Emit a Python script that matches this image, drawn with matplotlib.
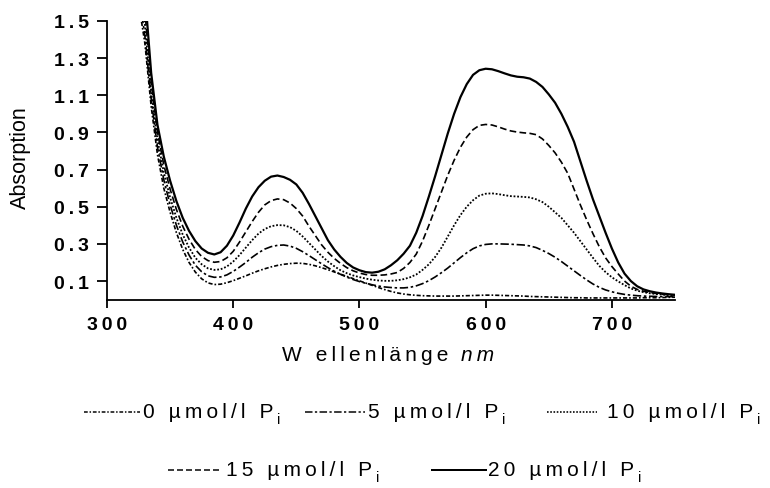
import numpy as np
import matplotlib
matplotlib.use("Agg")
import matplotlib.pyplot as plt
from matplotlib.lines import Line2D
from matplotlib import font_manager, ft2font

# ---------------- data ----------------
wavelength = np.arange(325, 751, 5)  # nm

a_0 = [1.60, 1.38, 1.04, 0.78, 0.60, 0.47, 0.36, 0.27, 0.20, 0.148,
       0.112, 0.09, 0.081, 0.083, 0.091, 0.102, 0.115, 0.128, 0.142, 0.155,
       0.166, 0.176, 0.184, 0.19, 0.194, 0.196, 0.195, 0.19, 0.182, 0.172,
       0.161, 0.149, 0.137, 0.125, 0.113, 0.101, 0.089, 0.077, 0.065, 0.054,
       0.044, 0.036, 0.03, 0.026, 0.023, 0.021, 0.02, 0.019, 0.019, 0.019,
       0.019, 0.02, 0.021, 0.022, 0.023, 0.024, 0.024, 0.023, 0.022, 0.021,
       0.02, 0.019, 0.017, 0.016, 0.015, 0.014, 0.013, 0.012, 0.011, 0.01,
       0.01, 0.009, 0.009, 0.009, 0.009, 0.009, 0.009, 0.009, 0.009, 0.009,
       0.01, 0.01, 0.01, 0.011, 0.012, 0.013]

a_5 = [1.66, 1.42, 1.08, 0.82, 0.645, 0.51, 0.40, 0.31, 0.24, 0.185,
       0.15, 0.128, 0.12, 0.122, 0.133, 0.152, 0.175, 0.20, 0.228, 0.252,
       0.272, 0.285, 0.292, 0.294, 0.288, 0.276, 0.258, 0.237, 0.215, 0.193,
       0.172, 0.153, 0.136, 0.121, 0.108, 0.097, 0.088, 0.08, 0.073, 0.068,
       0.065, 0.063, 0.063, 0.066, 0.074, 0.086, 0.102, 0.122, 0.145, 0.17,
       0.198, 0.226, 0.252, 0.274, 0.289, 0.297, 0.30, 0.30, 0.299, 0.298,
       0.296, 0.294, 0.289, 0.28, 0.265, 0.248, 0.228, 0.205, 0.18, 0.155,
       0.13, 0.106, 0.084, 0.066, 0.052, 0.042, 0.034, 0.028, 0.024, 0.021,
       0.019, 0.018, 0.017, 0.016, 0.016, 0.015]

a_10 = [1.72, 1.48, 1.12, 0.86, 0.685, 0.55, 0.44, 0.35, 0.28, 0.225,
        0.19, 0.168, 0.16, 0.163, 0.178, 0.205, 0.24, 0.28, 0.32, 0.355,
        0.38, 0.395, 0.401, 0.40, 0.39, 0.37, 0.34, 0.305, 0.27, 0.235,
        0.205, 0.18, 0.158, 0.142, 0.13, 0.121, 0.113, 0.107, 0.103, 0.101,
        0.101, 0.104, 0.11, 0.12, 0.135, 0.16, 0.19, 0.23, 0.28, 0.34,
        0.40, 0.455, 0.50, 0.535, 0.56, 0.57, 0.572, 0.568, 0.562, 0.557,
        0.555, 0.553, 0.55, 0.54, 0.525, 0.50, 0.47, 0.44, 0.40, 0.36,
        0.315, 0.27, 0.225, 0.182, 0.148, 0.12, 0.098, 0.078, 0.06, 0.048,
        0.04, 0.034, 0.03, 0.027, 0.024, 0.022]

a_15 = [1.85, 1.55, 1.17, 0.90, 0.725, 0.595, 0.485, 0.395, 0.325, 0.27,
        0.232, 0.21, 0.201, 0.205, 0.225, 0.26, 0.31, 0.365, 0.42, 0.47,
        0.51, 0.533, 0.542, 0.538, 0.52, 0.49, 0.45, 0.395, 0.345, 0.295,
        0.255, 0.222, 0.195, 0.172, 0.155, 0.143, 0.135, 0.131, 0.131, 0.133,
        0.138, 0.146, 0.168, 0.20, 0.245, 0.315, 0.40, 0.49, 0.58, 0.67,
        0.75, 0.82, 0.875, 0.915, 0.938, 0.943, 0.94, 0.93, 0.918, 0.908,
        0.902, 0.898, 0.895, 0.888, 0.865, 0.83, 0.79, 0.74, 0.68, 0.595,
        0.51, 0.43, 0.355, 0.285, 0.225, 0.178, 0.138, 0.10, 0.072, 0.055,
        0.045, 0.038, 0.033, 0.029, 0.026, 0.024]

a_20 = [2.00, 1.65, 1.22, 0.94, 0.77, 0.64, 0.53, 0.44, 0.37, 0.315,
        0.275, 0.252, 0.243, 0.255, 0.29, 0.345, 0.415, 0.49, 0.555, 0.605,
        0.64, 0.662, 0.668, 0.66, 0.645, 0.62, 0.575, 0.515, 0.45, 0.385,
        0.32, 0.27, 0.23, 0.197, 0.173, 0.158, 0.148, 0.145, 0.150, 0.163,
        0.185, 0.212, 0.247, 0.29, 0.36, 0.45, 0.555, 0.665, 0.78, 0.895,
        1.00, 1.09, 1.16, 1.21, 1.235, 1.243, 1.24, 1.23, 1.218, 1.207,
        1.20, 1.197, 1.19, 1.172, 1.145, 1.105, 1.06, 1.00, 0.93, 0.85,
        0.745, 0.64, 0.54, 0.45, 0.36, 0.275, 0.20, 0.14, 0.10, 0.072,
        0.055, 0.045, 0.038, 0.033, 0.029, 0.026]

series_values = [a_0, a_5, a_10, a_15, a_20]
series_labels = ["0 µmol/l P", "5 µmol/l P", "10 µmol/l P", "15 µmol/l P", "20 µmol/l P"]
subscript = "i"
x_ticks = [300, 400, 500, 600, 700]
y_ticks = [0.1, 0.3, 0.5, 0.7, 0.9, 1.1, 1.3, 1.5]
y_label = "Absorption"
x_label = "W ellenlänge"
x_unit = "nm"

# ---------------- style ----------------
FONT = "Liberation Sans"
plt.rcParams["font.family"] = [FONT, "DejaVu Sans"]


def has_char(bold, ch):
    try:
        fp = font_manager.FontProperties(family=FONT, weight="bold" if bold else "normal")
        path = font_manager.findfont(fp, fallback_to_default=False)
        f = ft2font.FT2Font(path)
        return ord(ch) in f.get_charmap()
    except Exception:
        return False


THIN = "\u2009" if (has_char(False, "\u2009") and has_char(True, "\u2009")) else " "


def track(s, sep):
    return sep.join(list(s))


styles = [
    dict(ls=(0, (2.5, 1.2, 1.0, 1.2)), lw=1.2),
    dict(ls=(0, (5.0, 1.6, 1.5, 1.6)), lw=1.2),
    dict(ls=(0, (1.0, 1.0)), lw=1.3),
    dict(ls=(0, (4.0, 2.0)), lw=1.2),
    dict(ls="-", lw=1.6),
]

W, H = 770, 489
fig = plt.figure(figsize=(W / 100, H / 100), dpi=100)
ax = fig.add_axes([107 / W, 1 - 300.6 / H, 568 / W, 278.6 / H])

for vals, st in zip(series_values, styles):
    ax.plot(wavelength, vals, color="black", linestyle=st["ls"], linewidth=st["lw"])

ax.set_xlim(300, 750)
ax.set_ylim(0, 1.5)
for side in ["top", "right"]:
    ax.spines[side].set_visible(False)
for side in ["left", "bottom"]:
    ax.spines[side].set_linewidth(1.3)

ax.set_xticks(x_ticks)
ax.set_xticklabels([track(str(t), THIN) for t in x_ticks], fontsize=14, fontweight="bold")
ax.set_yticks(y_ticks)
ax.set_yticklabels([track(f"{t:.1f}", THIN) for t in y_ticks], fontsize=14, fontweight="bold")
ax.tick_params(axis="x", direction="out", length=6, width=1.3, pad=6)
ax.tick_params(axis="y", direction="out", length=7, width=1.3, pad=6)

# axis titles
fig.text(20 / W, 1 - 158 / H, y_label, rotation=90, ha="center", va="center",
         fontsize=15.5)
xl = fig.text(282 / W, 1 - 361 / H, track(x_label, THIN), ha="left", va="baseline",
              fontsize=15)
ax.annotate(track(x_unit, THIN), xy=(1, 0), xycoords=xl, xytext=(9, 0),
            textcoords="offset points", ha="left", va="bottom", fontsize=15,
            style="italic", annotation_clip=False)

# legend (two centered rows)
legend_pos = [  # (line start px, line end px, text start px, row centre px)
    (84, 140, 143, 413),
    (305, 365, 368, 413),
    (547, 597, 607, 413),
    (168, 222, 226, 471),
    (432, 486, 488, 471),
]
for lab, st, (x0, x1, xt, yc) in zip(series_labels, styles, legend_pos):
    yy = 1 - yc / H
    fig.add_artist(Line2D([x0 / W, x1 / W], [yy, yy], transform=fig.transFigure,
                          color="black", linestyle=st["ls"], linewidth=st["lw"] * 0.9))
    t = fig.text(xt / W, yy, track(lab, THIN), ha="left", va="center", fontsize=15)
    ax.annotate(subscript, xy=(1, 0), xycoords=t, xytext=(2.5, -3),
                textcoords="offset points", ha="left", va="bottom", fontsize=10.5,
                annotation_clip=False)

fig.savefig("out.png", dpi=100)
